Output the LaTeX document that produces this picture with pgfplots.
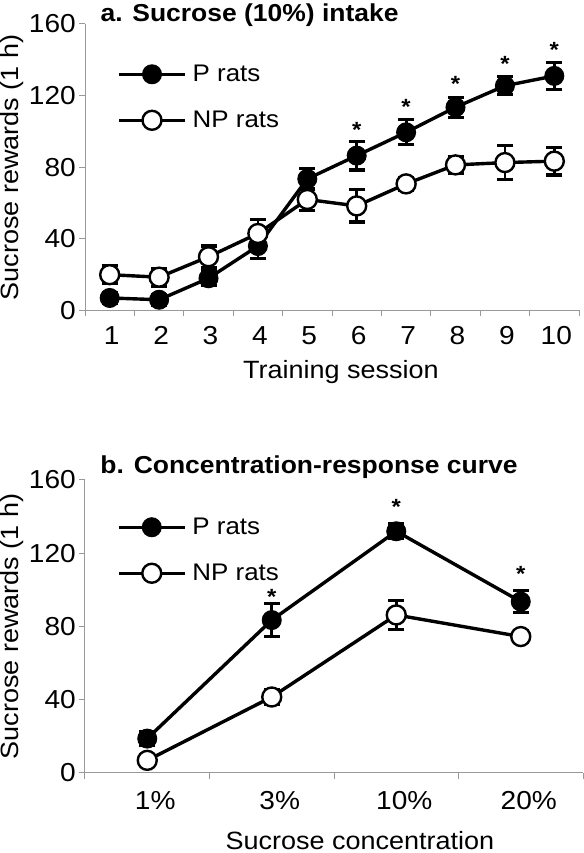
\documentclass[border=0pt]{standalone}
\usepackage{fontspec}
\setmainfont{Liberation Sans}[FakeStretch=1.08]
\usepackage{pgfplots}
\usepackage{pgfplotstable}
\pgfplotsset{compat=1.18}

\pgfplotstableread{
x P Pe NP NPe
1 7 3 20 5
2 6 3 18.6 5
3 18 4 30 6
4 36 7 43 8
5 73.5 6 62 6
6 86.5 8 58.4 9
7 99.5 7 70.7 3.5
8 113.5 5.5 81.3 4.5
9 125.5 5 82.6 9.5
10 131 7.5 83.4 7.7
}\topdata

\pgfplotstableread{
x P Pe NP NPe
1 18.8 4 6.9 3
2 83.5 9 41.5 4
3 132 4 86.3 8
4 93.6 6 74.5 3
}\botdata

\pgfplotsset{
  myaxis/.style={
    scale only axis,
    axis x line=bottom, axis y line=left,
    axis line style={-, draw=gray!80, line width=1pt},
    every tick/.style={draw=gray!80, line width=1pt},
    every major x tick/.append style={draw=none},
    ymin=0, ymax=160, ytick={0,40,...,160},
    tick align=outside,
    major tick length=6pt,
    minor tick length=6pt,
    tick label style={font=\fontsize{26}{26}\selectfont},
    yticklabel style={inner sep=0pt, xshift=-3pt},
    /pgf/number format/assume math mode=true,
    label style={font=\fontsize{25}{25}\selectfont},
    title style={font=\bfseries\fontsize{24.5}{24.5}\selectfont, anchor=base west},
    clip=false,
    legend style={draw=none, fill=none, inner sep=0pt, row sep=24pt,
      font=\fontsize{24}{24}\selectfont, anchor=north west,
      /tikz/every odd column/.append style={column sep=4pt}},
    legend cell align=left,
    legend image code/.code={\draw[mark repeat=2,mark phase=2,##1] plot coordinates {(0pt,0pt) (33pt,0pt) (66pt,0pt)};},
  },
  errP/.style={forget plot, draw=none, mark=none,
    error bars/.cd, y dir=both, y explicit,
    error bar style={draw=black, line width=2.8pt},
    error mark options={draw=black, rotate=90, mark size=8pt, line width=3.2pt}},
  lineP/.style={black, line width=3.4pt, mark=*, mark size=9.5pt, mark options={fill=black, draw=black, solid, line width=1pt}},
  lineNP/.style={black, line width=3.4pt, mark=*, mark size=9.5pt, mark options={fill=white, draw=black, solid, line width=2.4pt}},
  stars/.style={forget plot, only marks, mark=text, text mark={\bfseries\fontsize{22}{22}\selectfont *}},
}

\begin{document}
\begin{tikzpicture}
\useasboundingbox (0pt,0pt) rectangle (583pt,853pt);

\begin{axis}[myaxis,
  at={(85pt,542.5pt)}, anchor=south west,
  width=494pt, height=286.5pt,
  xmin=0.5, xmax=10.5,
  xtick={1,...,10},
  minor xtick={0.5,1.5,...,10.5},
  xticklabel style={xshift=2pt, yshift=-6.5pt},
  xlabel={Training session},
  xlabel style={at={(axis description cs:0.518,-0.236)}, anchor=base},
  ylabel={Sucrose rewards (1 h)},
  ylabel style={at={(axis description cs:-0.148,0.5)}, anchor=center},
  title={a. Sucrose (10\%) intake},
  title style={at={(axis description cs:0.0243,0.989)}},
  legend style={at={(axis description cs:0.065,0.8636)}},
]
\addplot[errP] table[x=x, y=P, y error=Pe] {\topdata};
\addplot[errP] table[x=x, y=NP, y error=NPe] {\topdata};
\addplot[lineP] table[x=x, y=P] {\topdata};
\addlegendentry{P rats}
\addplot[lineNP] table[x=x, y=NP] {\topdata};
\addlegendentry{NP rats}
\addplot[stars] coordinates {(6,100.7) (7,113.8) (8,126.8) (9,137.5) (10,145.4)};
\end{axis}

\begin{axis}[myaxis,
  at={(85pt,80pt)}, anchor=south west,
  width=498pt, height=293pt,
  xmin=0.5, xmax=4.5,
  xtick={1,2,3,4},
  xticklabels={1\%,3\%,10\%,20\%},
  minor xtick={0.5,1.5,...,4.5},
  xticklabel style={xshift=8pt, yshift=-8.5pt},
  xlabel={Sucrose concentration},
  xlabel style={at={(axis description cs:0.552,-0.2594)}, anchor=base},
  ylabel={Sucrose rewards (1 h)},
  ylabel style={at={(axis description cs:-0.147,0.5)}, anchor=center},
  title={b. Concentration-response curve},
  title style={at={(axis description cs:0.024,1.0)}},
  legend style={at={(axis description cs:0.064,0.877)}},
]
\addplot[errP] table[x=x, y=P, y error=Pe] {\botdata};
\addplot[errP] table[x=x, y=NP, y error=NPe] {\botdata};
\addplot[lineP] table[x=x, y=P] {\botdata};
\addlegendentry{P rats}
\addplot[lineNP] table[x=x, y=NP] {\botdata};
\addlegendentry{NP rats}
\addplot[stars] coordinates {(2,96.1) (3,145.5) (4,108.5)};
\end{axis}
\end{tikzpicture}
\end{document}
